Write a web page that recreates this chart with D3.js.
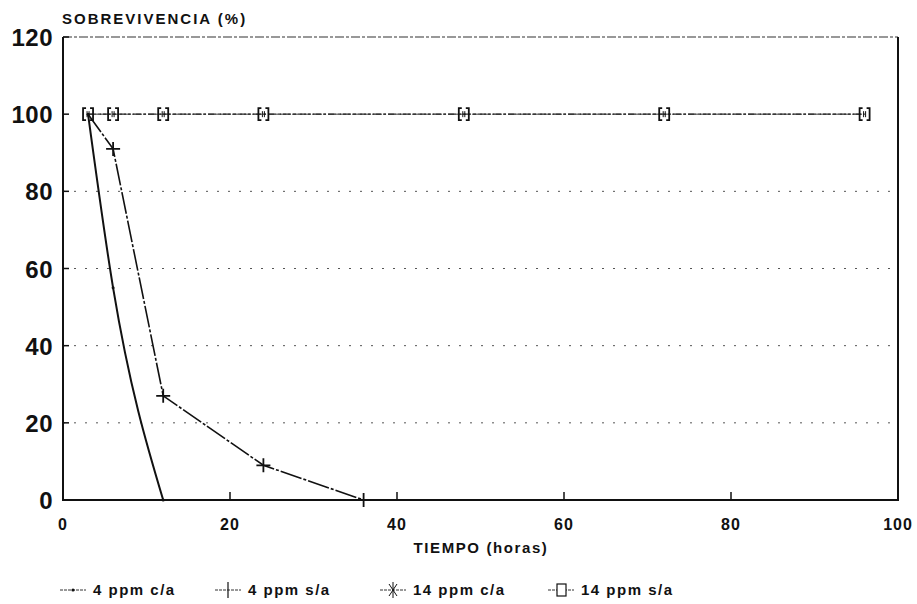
<!DOCTYPE html>
<html>
<head>
<meta charset="utf-8">
<script src="https://cdn.jsdelivr.net/npm/d3@7"></script>
<style>
  body { margin: 0; background: #fff; }
  text { font-family: "Liberation Sans", Arial, sans-serif; font-weight: bold; fill: #111; }
</style>
</head>
<body>
<script>
// survival curves
const hours4ca = [3, 6, 12];
const surv4ca = [100, 55, 0];
const hours4sa = [3, 6, 12, 24, 36];
const surv4sa = [100, 91, 27, 9, 0];
const hours14 = [3, 6, 12, 24, 48, 72, 96];
const surv14ca = [100, 100, 100, 100, 100, 100, 100];
const surv14sa = [100, 100, 100, 100, 100, 100, 100];
const xTicks = [0, 20, 40, 60, 80, 100];
const yTicks = [0, 20, 40, 60, 80, 100, 120];
const legendLabels = ["4 ppm c/a", "4 ppm s/a", "14 ppm c/a", "14 ppm s/a"];

const width = 917, height = 604;
const margin = { left: 63, right: 19, top: 37, bottom: 104 };

const svg = d3.select("body").append("svg")
  .attr("width", width).attr("height", height);

const x = d3.scaleLinear().domain([0, 100]).range([margin.left, width - margin.right]);
const y = d3.scaleLinear().domain([0, 120]).range([height - margin.bottom, margin.top]);

const zip = (xs, ys) => xs.map((d, i) => [d, ys[i]]);
const line = d3.line().x(d => x(d[0])).y(d => y(d[1]));

// dotted grid
svg.append("g").selectAll("line")
  .data(yTicks.filter(d => d > 0 && d < 100))
  .enter().append("line")
  .attr("x1", x(0)).attr("x2", x(100))
  .attr("y1", d => y(d)).attr("y2", d => y(d))
  .attr("stroke", "#555").attr("stroke-width", 1)
  .attr("stroke-dasharray", "2,9");

// top border, dashed
svg.append("line")
  .attr("x1", x(0)).attr("x2", x(100))
  .attr("y1", y(120)).attr("y2", y(120))
  .attr("stroke", "#333").attr("stroke-width", 1.2)
  .attr("stroke-dasharray", "9,2,3,2");

// frame left / bottom / right
svg.append("path")
  .attr("d", `M${x(0)},${y(120)}V${y(0)}H${x(100)}V${y(120)}`)
  .attr("fill", "none").attr("stroke", "#111").attr("stroke-width", 2);

// y ticks + labels
const yAxis = svg.append("g");
yAxis.selectAll("line").data(yTicks).enter().append("line")
  .attr("x1", x(0)).attr("x2", x(0) + 6)
  .attr("y1", d => y(d)).attr("y2", d => y(d))
  .attr("stroke", "#111").attr("stroke-width", 1.5);
yAxis.selectAll("text").data(yTicks).enter().append("text")
  .attr("x", x(0) - 10).attr("y", d => y(d) + 9)
  .attr("text-anchor", "end")
  .attr("font-size", 24).attr("letter-spacing", 0.5)
  .text(d => d);

// x ticks + labels
const xAxis = svg.append("g");
xAxis.selectAll("line").data(xTicks.filter(d => d > 0 && d < 100)).enter().append("line")
  .attr("x1", d => x(d)).attr("x2", d => x(d))
  .attr("y1", y(0)).attr("y2", y(0) - 8)
  .attr("stroke", "#111").attr("stroke-width", 1.5);
xAxis.selectAll("text").data(xTicks).enter().append("text")
  .attr("x", d => x(d)).attr("y", y(0) + 30)
  .attr("text-anchor", "middle")
  .attr("font-size", 16).attr("letter-spacing", 1)
  .text(d => d);

svg.append("text")
  .attr("x", 481).attr("y", 553)
  .attr("text-anchor", "middle")
  .attr("font-size", 15).attr("letter-spacing", 1.6)
  .text("TIEMPO (horas)");

svg.append("text")
  .attr("x", 62).attr("y", 24)
  .attr("font-size", 15).attr("letter-spacing", 2)
  .text("SOBREVIVENCIA (%)");

// series lines
svg.append("path").datum(zip(hours14, surv14ca))
  .attr("d", line).attr("fill", "none")
  .attr("stroke", "#333").attr("stroke-width", 1).attr("stroke-dasharray", "6,2,2,2");
svg.append("path").datum(zip(hours14, surv14sa))
  .attr("d", line).attr("fill", "none")
  .attr("stroke", "#222").attr("stroke-width", 1.1).attr("stroke-dasharray", "8,2,3,2");
svg.append("path").datum(zip(hours4ca, surv4ca))
  .attr("d", d3.line().curve(d3.curveMonotoneX).x(d => x(d[0])).y(d => y(d[1])))
  .attr("fill", "none").attr("stroke", "#111").attr("stroke-width", 2);
svg.append("path").datum(zip(hours4sa, surv4sa))
  .attr("d", line).attr("fill", "none")
  .attr("stroke", "#111").attr("stroke-width", 1.6).attr("stroke-dasharray", "22,2,3,2");

// markers
const plus = (g, px, py, s) => {
  g.append("path").attr("d", `M${px - s},${py}H${px + s}M${px},${py - s}V${py + s}`)
    .attr("stroke", "#111").attr("stroke-width", 1.8).attr("fill", "none");
};
const square = (g, px, py) => {
  g.append("path")
    .attr("d", `M${px - 2},${py - 6}H${px - 5}V${py + 6}H${px - 2}M${px + 2},${py - 6}H${px + 5}V${py + 6}H${px + 2}`)
    .attr("stroke", "#111").attr("stroke-width", 1.8).attr("fill", "none");
  g.append("path").attr("d", `M${px - 1},${py - 3}V${py + 3}M${px + 1},${py - 3}V${py + 3}`)
    .attr("stroke", "#111").attr("stroke-width", 1).attr("fill", "none");
};

const mk = svg.append("g");
zip(hours4ca, surv4ca).forEach(d => {
  mk.append("circle").attr("cx", x(d[0])).attr("cy", y(d[1])).attr("r", 1.5).attr("fill", "#111");
});
zip(hours4sa, surv4sa).slice(1).forEach(d => plus(mk, x(d[0]), y(d[1]), 7));
zip(hours14, surv14sa).forEach(d => square(mk, x(d[0]), y(d[1])));

// legend
const legendX = [60, 215, 380, 548];
const lg = svg.append("g");
legendLabels.forEach((label, i) => {
  const lx = legendX[i], ly = 595;
  lg.append("line").attr("x1", lx).attr("x2", lx + 26).attr("y1", ly - 5).attr("y2", ly - 5)
    .attr("stroke", "#333").attr("stroke-width", 1).attr("stroke-dasharray", "3,1");
  if (i === 0) lg.append("circle").attr("cx", lx + 13).attr("cy", ly - 5).attr("r", 1.6).attr("fill", "#111");
  if (i === 1) lg.append("line").attr("x1", lx + 13).attr("x2", lx + 13).attr("y1", ly - 13).attr("y2", ly + 3)
    .attr("stroke", "#111").attr("stroke-width", 1.2);
  if (i === 2) {
    lg.append("path").attr("d", `M${lx + 13},${ly - 13}V${ly + 3}M${lx + 9},${ly - 11}L${lx + 17},${ly + 1}M${lx + 17},${ly - 11}L${lx + 9},${ly + 1}`)
      .attr("stroke", "#111").attr("stroke-width", 1);
  }
  if (i === 3) lg.append("rect").attr("x", lx + 9).attr("y", ly - 11).attr("width", 9).attr("height", 12)
    .attr("fill", "#fff").attr("stroke", "#111").attr("stroke-width", 1.2);
  lg.append("text").attr("x", lx + 33).attr("y", ly)
    .attr("font-size", 15).attr("letter-spacing", 1.5)
    .text(label);
});
</script>
</body>
</html>
